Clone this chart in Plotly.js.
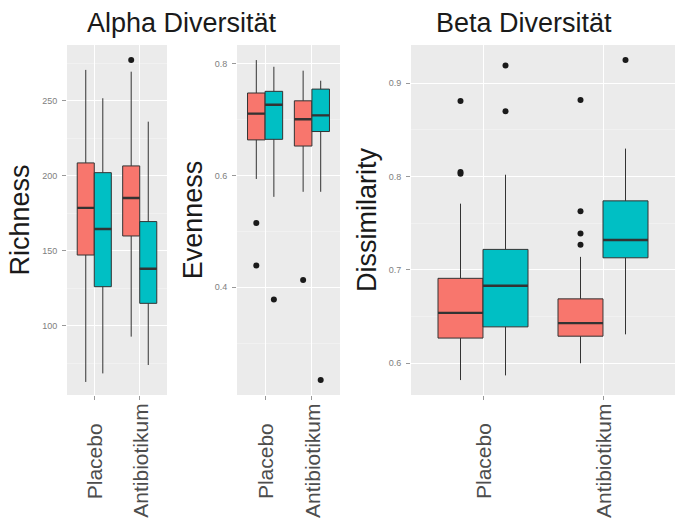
<!DOCTYPE html>
<html><head><meta charset="utf-8">
<script src="https://cdn.plot.ly/plotly-3.0.1.min.js"></script>
<style>html,body{margin:0;padding:0;background:#fff}#chart{width:675px;height:520px}</style>
</head><body><div id="chart"></div>
<script>
// Categories and series
const categories = ['Placebo', 'Antibiotikum'];
const seriesNames = ['Gruppe 1', 'Gruppe 2'];

// Richness (Alpha Diversität)
const richRedLower = [62.7, 92.9];
const richRedQ1 = [147.3, 160.0];
const richRedMedian = [178.7, 185.3];
const richRedQ3 = [208.7, 206.7];
const richRedUpper = [270.7, 269.5];
const richTealLower = [68.4, 74.0];
const richTealQ1 = [126.2, 115.1];
const richTealMedian = [164.7, 138.2];
const richTealQ3 = [202.2, 169.6];
const richTealUpper = [251.8, 236.2];
const richRedOutliers = [[], [277.3]];
const richTealOutliers = [[], []];

// Evenness (Alpha Diversität)
const evenRedLower = [0.594, 0.571];
const evenRedQ1 = [0.664, 0.653];
const evenRedMedian = [0.711, 0.701];
const evenRedQ3 = [0.748, 0.734];
const evenRedUpper = [0.807, 0.788];
const evenTealLower = [0.562, 0.571];
const evenTealQ1 = [0.665, 0.679];
const evenTealMedian = [0.727, 0.708];
const evenTealQ3 = [0.751, 0.755];
const evenTealUpper = [0.795, 0.770];
const evenRedOutliers = [[0.515, 0.439], [0.413]];
const evenTealOutliers = [[0.378], [0.234]];

// Dissimilarity (Beta Diversität)
const disRedLower = [0.582, 0.600];
const disRedQ1 = [0.627, 0.629];
const disRedMedian = [0.654, 0.643];
const disRedQ3 = [0.691, 0.669];
const disRedUpper = [0.771, 0.714];
const disTealLower = [0.587, 0.631];
const disTealQ1 = [0.639, 0.713];
const disTealMedian = [0.683, 0.732];
const disTealQ3 = [0.722, 0.774];
const disTealUpper = [0.802, 0.830];
const disRedOutliers = [[0.881, 0.805, 0.803], [0.882, 0.763, 0.739, 0.727]];
const disTealOutliers = [[0.919, 0.870], [0.925]];

const colors = ['#F8766D', '#00BFC4'];
const FONT = 'Liberation Sans, Arial, Helvetica, sans-serif';
const dodge = 0.75;
const boxW = dodge / 2;

const panels = [
  {xa: 'x', ya: 'y', series: [
    {lo: richRedLower, q1: richRedQ1, med: richRedMedian, q3: richRedQ3, hi: richRedUpper, out: richRedOutliers},
    {lo: richTealLower, q1: richTealQ1, med: richTealMedian, q3: richTealQ3, hi: richTealUpper, out: richTealOutliers}]},
  {xa: 'x2', ya: 'y2', series: [
    {lo: evenRedLower, q1: evenRedQ1, med: evenRedMedian, q3: evenRedQ3, hi: evenRedUpper, out: evenRedOutliers},
    {lo: evenTealLower, q1: evenTealQ1, med: evenTealMedian, q3: evenTealQ3, hi: evenTealUpper, out: evenTealOutliers}]},
  {xa: 'x3', ya: 'y3', series: [
    {lo: disRedLower, q1: disRedQ1, med: disRedMedian, q3: disRedQ3, hi: disRedUpper, out: disRedOutliers},
    {lo: disTealLower, q1: disTealQ1, med: disTealMedian, q3: disTealQ3, hi: disTealUpper, out: disTealOutliers}]}
];

const traces = [];
panels.forEach(p => {
  p.series.forEach((s, si) => {
    const pos = categories.map((c, ci) => ci + 1 + (si === 0 ? -1 : 1) * dodge / 4);
    traces.push({
      type: 'box', xaxis: p.xa, yaxis: p.ya, name: seriesNames[si], showlegend: false,
      x: pos, q1: s.q1, median: s.med, q3: s.q3, lowerfence: s.lo, upperfence: s.hi,
      width: boxW, whiskerwidth: 0, boxpoints: false,
      fillcolor: colors[si], line: {color: '#333333', width: 1}, hoverinfo: 'skip'
    });
    // thick median line (ggplot fatten)
    traces.push({
      type: 'box', xaxis: p.xa, yaxis: p.ya, showlegend: false,
      x: pos, q1: s.med, median: s.med, q3: s.med, lowerfence: s.med, upperfence: s.med,
      width: boxW, whiskerwidth: 0, boxpoints: false,
      fillcolor: 'rgba(0,0,0,0)', line: {color: '#333333', width: 2.4}, hoverinfo: 'skip'
    });
    const ox = [], oy = [];
    s.out.forEach((vals, ci) => vals.forEach(v => { ox.push(pos[ci]); oy.push(v); }));
    traces.push({
      type: 'scatter', mode: 'markers', xaxis: p.xa, yaxis: p.ya, showlegend: false,
      x: ox, y: oy, marker: {color: '#1a1a1a', size: 6}, hoverinfo: 'skip'
    });
  });
});

const W = 675, PLOT_TOP = 45, PLOT_H = 350;
function xax(d0, d1, anchor) {
  return {
    domain: [d0 / W, d1 / W], anchor: anchor, range: [0.4, 2.6], type: 'linear',
    tickvals: [1, 2], ticktext: categories, showticklabels: false,
    ticks: 'outside', ticklen: 4, tickcolor: '#999999', tickwidth: 1,
    showgrid: true, gridcolor: '#ffffff', gridwidth: 1,
    zeroline: false, showline: false, fixedrange: true
  };
}
function yax(range, dtick, anchor, title) {
  return {
    range: range, anchor: anchor, dtick: dtick, tick0: 0,
    tickfont: {family: FONT, size: 9, color: '#808080'},
    ticks: 'outside', ticklen: 4, tickcolor: '#999999', tickwidth: 1,
    ticklabelstandoff: 3,
    showgrid: true, gridcolor: '#ffffff', gridwidth: 1,
    minor: {dtick: dtick / 2, tick0: 0, showgrid: true, gridcolor: '#f5f5f5', gridwidth: 0.6, ticks: ''},
    zeroline: false, showline: false, fixedrange: true,
    title: {text: title, font: {family: FONT, size: 27, color: '#1a1a1a'}, standoff: 4}
  };
}

// category labels, centred like ggplot's rotated axis text
const annotations = [];
['x', 'x2', 'x3'].forEach(xa => {
  categories.forEach((c, ci) => {
    annotations.push({
      text: c, xref: xa, yref: 'paper', x: ci + 1, y: -(461 - (PLOT_TOP + PLOT_H)) / PLOT_H,
      textangle: -90, xanchor: 'center', yanchor: 'middle', showarrow: false,
      font: {family: FONT, size: 21, color: '#4d4d4d'}
    });
  });
});
annotations.push(
  {text: 'Alpha Diversität', xref: 'paper', yref: 'paper', x: 181.5 / W, y: (PLOT_TOP + PLOT_H - 23) / PLOT_H,
   xanchor: 'center', yanchor: 'middle', showarrow: false, font: {family: FONT, size: 27, color: '#1a1a1a'}},
  {text: 'Beta Diversität', xref: 'paper', yref: 'paper', x: 524 / W, y: (PLOT_TOP + PLOT_H - 23) / PLOT_H,
   xanchor: 'center', yanchor: 'middle', showarrow: false, font: {family: FONT, size: 27, color: '#1a1a1a'}}
);

const layout = {
  width: 675, height: 520,
  margin: {l: 0, r: 0, t: PLOT_TOP, b: 520 - PLOT_TOP - PLOT_H},
  paper_bgcolor: '#ffffff', plot_bgcolor: '#ebebeb',
  showlegend: false,
  xaxis: xax(67, 167, 'y'),
  xaxis2: xax(237, 340, 'y2'),
  xaxis3: xax(411, 675, 'y3'),
  yaxis: yax([54, 287.3], 50, 'x', 'Richness'),
  yaxis2: yax([0.207, 0.834], 0.2, 'x2', 'Evenness'),
  yaxis3: yax([0.566, 0.941], 0.1, 'x3', 'Dissimilarity'),
  annotations: annotations
};

Plotly.newPlot('chart', traces, layout, {staticPlot: true, displayModeBar: false});
</script>
</body></html>
